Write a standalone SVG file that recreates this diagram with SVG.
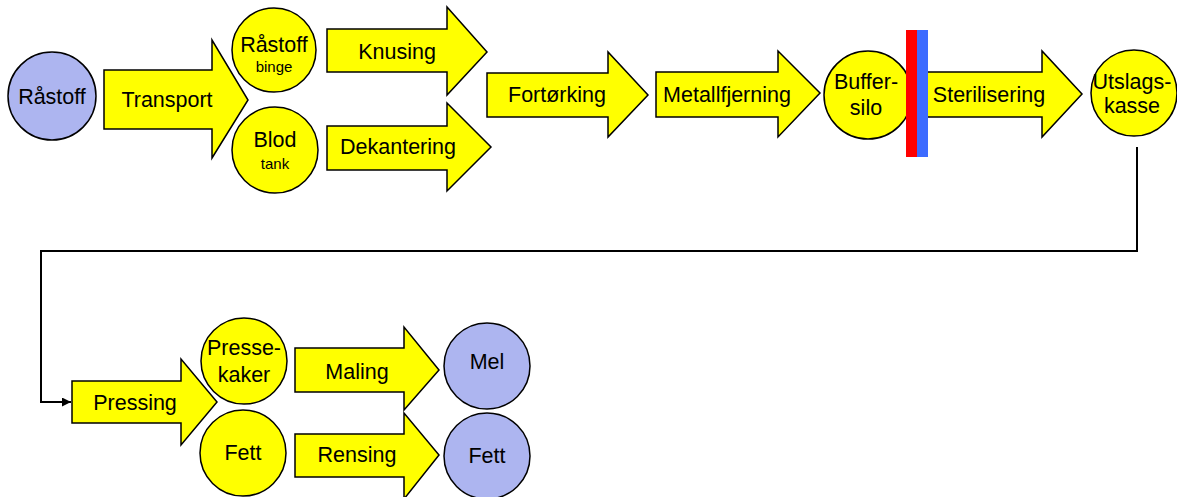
<svg xmlns="http://www.w3.org/2000/svg" width="1177" height="497" viewBox="0 0 1177 497">
<style>
.arrow{fill:#FFFF00;stroke:#000;stroke-width:1.5;stroke-linejoin:miter}
.yc{fill:#FFFF00;stroke:#000;stroke-width:1.5}
.bc{fill:#ADB5F0;stroke:#000;stroke-width:1.5}
text{font-family:"Liberation Sans",Arial,sans-serif;font-size:21.5px;fill:#000;text-anchor:middle;dominant-baseline:central}
text.s{font-size:15px}
.conn{fill:none;stroke:#000;stroke-width:2}
</style>
<defs>
<marker id="ah" viewBox="0 0 10 10" refX="10" refY="5" markerWidth="9" markerHeight="9" markerUnits="userSpaceOnUse" orient="auto">
<path d="M0,0 L10,5 L0,10 Z" fill="#000"/>
</marker>
</defs>
<g id="connectors">
<path class="conn" d="M1137,147 V251 H41 V402 H71" marker-end="url(#ah)"/>
</g>
<g id="n-rastoff"><circle class="bc" cx="52" cy="96" r="44"/><text x="52" y="97">Råstoff</text></g>
<g id="n-transport"><polygon class="arrow" points="104,70 212,70 212,40 248,100 212,158 212,129 104,129"/><text x="167" y="100">Transport</text></g>
<g id="n-binge"><circle class="yc" cx="274" cy="50" r="42"/><text x="274" y="45">Råstoff</text><text class="s" x="274" y="66">binge</text></g>
<g id="n-blod"><circle class="yc" cx="275" cy="150" r="43"/><text x="275" y="140">Blod</text><text class="s" x="275" y="163">tank</text></g>
<g id="n-knusing"><polygon class="arrow" points="327,29 447,29 447,7 487,52 447,95 447,72 327,72"/><text x="397" y="52">Knusing</text></g>
<g id="n-dekantering"><polygon class="arrow" points="327,126 447,126 447,103 491,147 447,191 447,170 327,170"/><text x="398" y="147">Dekantering</text></g>
<g id="n-fortorking"><polygon class="arrow" points="487,73 608,73 608,52 648,95 608,137 608,117 487,117"/><text x="557" y="95">Fortørking</text></g>
<g id="n-metall"><polygon class="arrow" points="656,72 778,72 778,51 820,93 778,137 778,117 656,117"/><text x="727" y="95">Metallfjerning</text></g>
<g id="n-buffer"><circle class="yc" cx="868" cy="95" r="44"/><text x="866" y="82">Buffer-</text><text x="866" y="108">silo</text></g>
<g id="n-steril"><polygon class="arrow" points="920,72 1042,72 1042,51 1082,94 1042,137 1042,117 920,117"/><text x="989" y="95">Sterilisering</text></g>
<g id="n-bar"><rect x="906" y="30" width="11" height="127" fill="#FF0000"/><rect x="917" y="30" width="11" height="127" fill="#3D6BFF"/></g>
<g id="n-utslag"><circle class="yc" cx="1134" cy="93" r="43"/><text x="1132" y="82">Utslags-</text><text x="1132" y="106">kasse</text></g>
<g id="n-pressing"><polygon class="arrow" points="72,381 181,381 181,359 217,402 181,445 181,423 72,423"/><text x="135" y="403">Pressing</text></g>
<g id="n-pressekaker"><circle class="yc" cx="244" cy="361" r="43"/><text x="244" y="348">Presse-</text><text x="244" y="375">kaker</text></g>
<g id="n-fett1"><circle class="yc" cx="243" cy="453" r="43"/><text x="243" y="453">Fett</text></g>
<g id="n-maling"><polygon class="arrow" points="295,348 404,348 404,327 439,370 404,410 404,392 295,392"/><text x="357" y="372">Maling</text></g>
<g id="n-rensing"><polygon class="arrow" points="295,434 404,434 404,413 439,455 404,499 404,477 295,477"/><text x="357" y="455">Rensing</text></g>
<g id="n-mel"><circle class="bc" cx="487" cy="366" r="43"/><text x="487" y="362">Mel</text></g>
<g id="n-fett2"><circle class="bc" cx="487" cy="456" r="43"/><text x="487" y="456">Fett</text></g>
</svg>
